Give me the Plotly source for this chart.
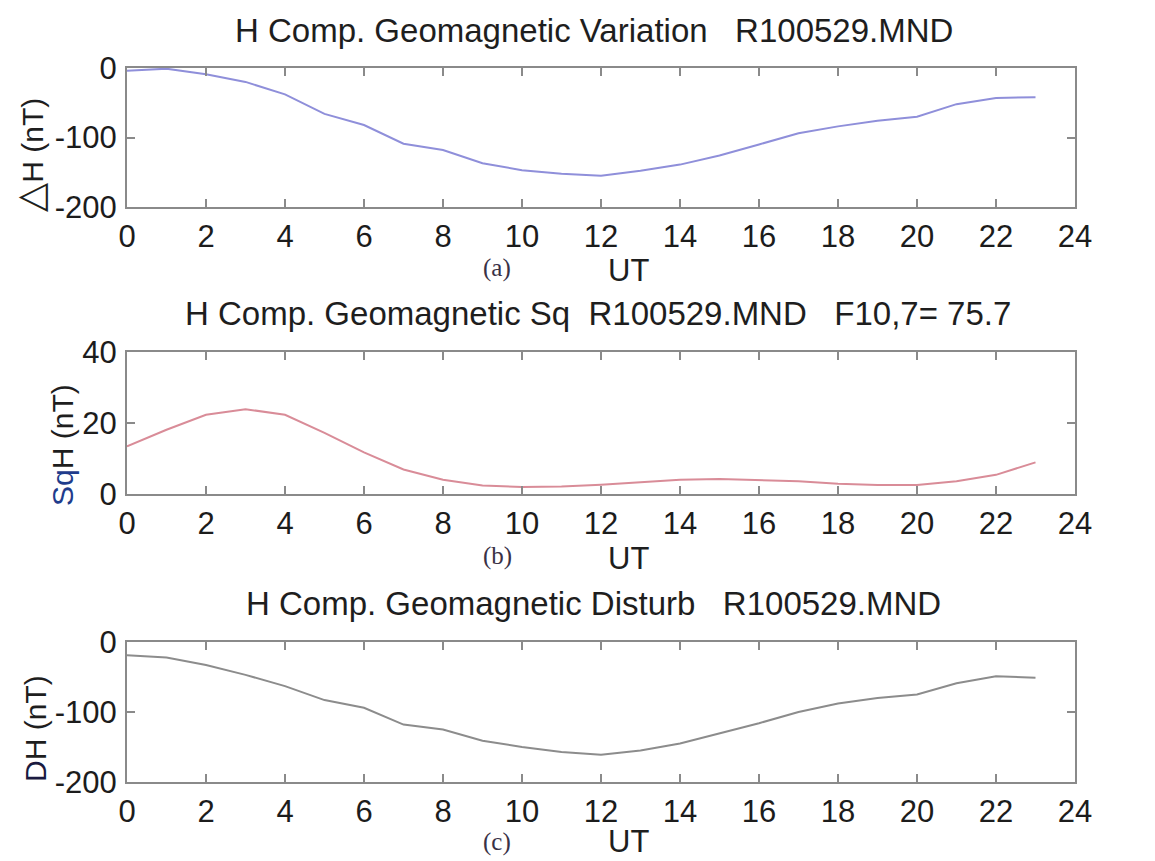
import plotly.graph_objects as go

# hourly values
ut = [0, 1, 2, 3, 4, 5, 6, 7, 8, 9, 10, 11, 12, 13, 14, 15, 16, 17, 18, 19, 20, 21, 22, 23]
delta_h = [-4, -1, -9, -20, -38, -66, -82, -109, -118, -137, -147, -152,
           -155, -148, -139, -126, -110, -94, -84, -76, -70, -52, -43, -42]
sq_h = [13.4, 18.1, 22.3, 23.9, 22.3, 17.2, 11.7, 6.9, 4.0, 2.4, 2.0, 2.1,
        2.6, 3.4, 4.0, 4.2, 3.9, 3.6, 2.9, 2.5, 2.5, 3.6, 5.4, 8.9]
d_h = [-19, -22, -33, -47, -63, -83, -94, -118, -125, -141, -150, -157,
       -161, -155, -145, -131, -116, -100, -88, -80, -75, -59, -49, -51]

x_ticks = [0, 2, 4, 6, 8, 10, 12, 14, 16, 18, 20, 22, 24]
x_ticktext = ["0", "2", "4", "6", "8", "10", "12", "14", "16", "18", "20", "22", "24"]
yticks_a = [0, -100, -200]
yticktext_a = ["0", "-100", "-200"]
yticks_b = [0, 20, 40]
yticktext_b = ["0", "20", "40"]
yticks_c = [0, -100, -200]
yticktext_c = ["0", "-100", "-200"]

titles = [
    "H Comp. Geomagnetic Variation   R100529.MND",
    "H Comp. Geomagnetic Sq  R100529.MND   F10,7= 75.7",
    "H Comp. Geomagnetic Disturb   R100529.MND",
]
panel_tags = ["(a)", "(b)", "(c)"]

W, H = 1155, 861
FONT = "Liberation Sans, Arial, Helvetica, sans-serif"

def px(x):
    return x / W

def py(y):
    return 1 - y / H

fig = go.Figure()
fig.add_trace(go.Scatter(x=ut, y=delta_h, mode="lines", xaxis="x", yaxis="y",
                         line=dict(color="#8f8fda", width=2), showlegend=False))
fig.add_trace(go.Scatter(x=ut, y=sq_h, mode="lines", xaxis="x2", yaxis="y2",
                         line=dict(color="#d98c98", width=2), showlegend=False))
fig.add_trace(go.Scatter(x=ut, y=d_h, mode="lines", xaxis="x3", yaxis="y3",
                         line=dict(color="#8c8c8c", width=2), showlegend=False))

xdom = [px(127), px(1075)]
panels = [(68, 207), (352, 494), (642, 782)]

axis_common = dict(showline=True, mirror="ticks", linecolor="#8a8a8a", linewidth=2,
                   ticks="inside", ticklen=8, tickwidth=2, tickcolor="#8a8a8a",
                   showgrid=False, zeroline=False, automargin=False,
                   tickfont=dict(family=FONT, size=31, color="#1c1c1c"))

layout = dict(template="none", width=W, height=H, margin=dict(l=0, r=0, t=0, b=0, pad=0),
              paper_bgcolor="white", plot_bgcolor="white", showlegend=False)

yranges = [[-200, 0], [0, 40], [-200, 0]]
yticks = [yticks_a, yticks_b, yticks_c]
ytexts = [yticktext_a, yticktext_b, yticktext_c]
for i, (top, bot) in enumerate(panels):
    sfx = "" if i == 0 else str(i + 1)
    layout["xaxis" + sfx] = dict(domain=xdom, range=[0, 24], tickmode="array",
                                 tickvals=x_ticks, ticktext=x_ticktext,
                                 anchor="y" + sfx, ticklabelstandoff=1, **axis_common)
    layout["yaxis" + sfx] = dict(domain=[py(bot), py(top)], range=yranges[i], tickmode="array",
                                 tickvals=yticks[i], ticktext=ytexts[i], anchor="x" + sfx,
                                 ticklabelstandoff=2, **axis_common)

fig.update_layout(**layout)

ann = []
title_y = [30, 313, 603]
title_x = [594, 598, 594]
for i in range(3):
    ann.append(dict(text=titles[i], x=px(title_x[i]), y=py(title_y[i]), xref="paper", yref="paper",
                    showarrow=False, xanchor="center", yanchor="middle",
                    font=dict(family=FONT, size=33, color="#1e1e1e")))
tag_y = [268, 556, 842]
ut_y = [270, 558, 841]
for i in range(3):
    ann.append(dict(text=panel_tags[i], x=px(497), y=py(tag_y[i]), xref="paper", yref="paper",
                    showarrow=False, xanchor="center", yanchor="middle",
                    font=dict(family="Liberation Serif, Times New Roman, serif", size=25, color="#3a3146")))
    ann.append(dict(text="UT", x=px(628), y=py(ut_y[i]), xref="paper", yref="paper",
                    showarrow=False, xanchor="center", yanchor="middle",
                    font=dict(family=FONT, size=31, color="#1e1e1e")))

ytitles = [
    ("<span style='font-family:DejaVu Sans;font-size:38px'>△</span>H (nT)", 30, 155),
    ("<span style='color:#1f3c8c'>Sq</span>H (nT)", 62, 445),
    ("<span style='color:#1a1a40'>D</span>H (nT)", 35, 729),
]
for text, xx, yy in ytitles:
    ann.append(dict(text=text, x=px(xx), y=py(yy), xref="paper", yref="paper",
                    showarrow=False, xanchor="center", yanchor="middle", textangle=-90,
                    font=dict(family=FONT, size=30, color="#1e1e1e")))

fig.update_layout(annotations=ann)
fig.write_html("out.html", config={"displayModeBar": False},
               post_script="document.body.style.margin='0px';")
